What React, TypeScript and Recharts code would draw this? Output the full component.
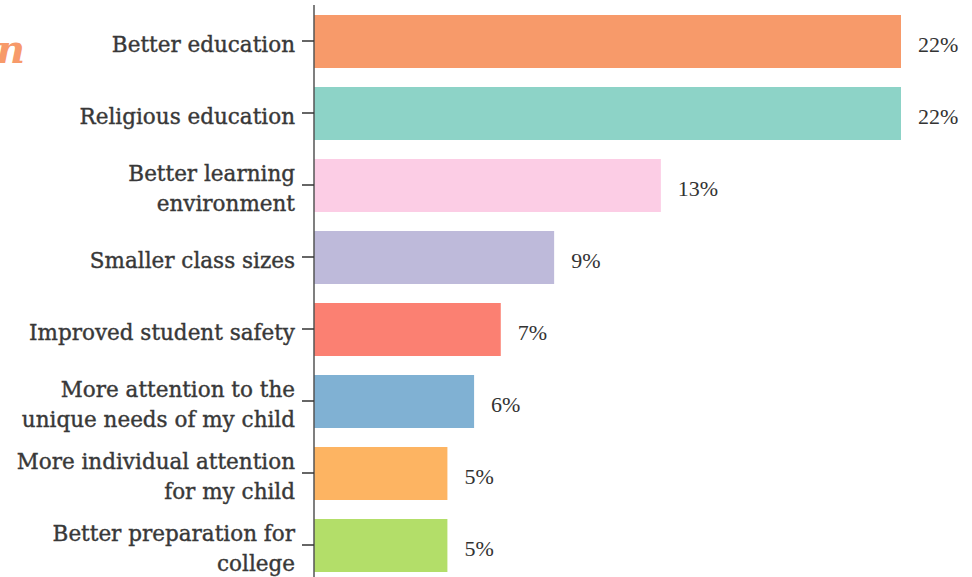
import React from 'react'
import { Bar, BarChart, Cell, LabelList, XAxis, YAxis } from 'recharts'

// survey answers, top to bottom
const reasons = [
  'Better education',
  'Religious education',
  'Better learning\nenvironment',
  'Smaller class sizes',
  'Improved student safety',
  'More attention to the\nunique needs of my child',
  'More individual attention\nfor my child',
  'Better preparation for\ncollege',
]
const shares = [22, 22, 13, 9, 7, 6, 5, 5]
const barColors = ['#F79A6A', '#8DD3C7', '#FCCDE5', '#BEBADA', '#FB8072', '#80B1D3', '#FDB462', '#B3DE69']

const data = reasons.map((reason, i) => ({ reason, share: shares[i] }))

const serif = '"DejaVu Serif", "Liberation Serif", serif'

function ReasonTick(props: any) {
  const { x, y, payload } = props
  const lines = String(payload.value).split('\n')
  const lineHeight = 30
  const startY = y + 3 - ((lines.length - 1) * lineHeight) / 2
  return (
    <text
      x={x}
      y={startY}
      textAnchor="end"
      dominantBaseline="central"
      fill="#383838"
      stroke="#383838"
      strokeWidth={0.4}
      fontFamily={serif}
      fontSize={21.5}
    >
      {lines.map((line, i) => (
        <tspan key={i} x={x} dy={i === 0 ? 0 : lineHeight}>{line}</tspan>
      ))}
    </text>
  )
}

export default function App() {
  return (
    <div style={{ position: 'absolute', left: 0, top: 0, width: 972, height: 577, overflow: 'hidden', background: '#fff' }}>
      <span style={{ position: 'absolute', left: -4, top: 25, fontFamily: serif, fontStyle: 'italic', fontWeight: 700, fontSize: 40, color: '#F79A6A' }}>n</span>
      <BarChart
        width={972}
        height={590}
        data={data}
        layout="vertical"
        margin={{ top: 5, right: 71, bottom: 9, left: 0 }}
        barSize={53}
        style={{ position: 'absolute', left: 0, top: 0 }}
      >
        <XAxis type="number" domain={[0, 22]} hide />
        <YAxis
          type="category"
          dataKey="reason"
          width={314}
          tick={<ReasonTick />}
          tickSize={12}
          tickMargin={7}
          axisLine={{ stroke: '#555', strokeWidth: 1.5 }}
          tickLine={{ stroke: '#333', strokeWidth: 1.5 }}
          interval={0}
        />
        <Bar dataKey="share" isAnimationActive={false}>
          {data.map((d, i) => (
            <Cell key={d.reason} fill={barColors[i]} />
          ))}
          <LabelList
            dataKey="share"
            position="right"
            offset={17}
            formatter={(v: any) => `${v}%`}
            fill="#333"
            fontFamily='"Liberation Serif", serif'
            fontSize={22}
            dy={3}
          />
        </Bar>
      </BarChart>
    </div>
  )
}
